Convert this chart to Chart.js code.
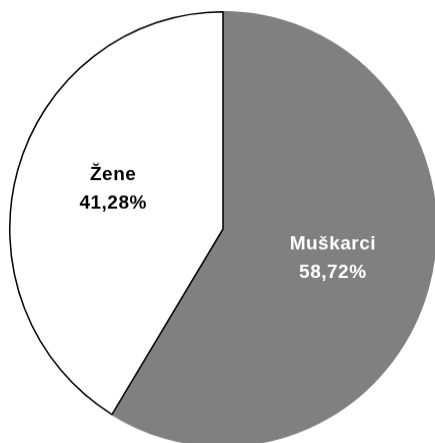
<!DOCTYPE html>
<html>
<head>
<meta charset="utf-8">
<script src="https://cdn.jsdelivr.net/npm/chart.js@4/dist/chart.umd.min.js"></script>
<style>
  html, body { margin: 0; padding: 0; background: #fff; overflow: hidden; width: 435px; height: 443px; }
  #wrap { position: absolute; left: 9px; top: 11px; width: 428px; height: 436px; }
  #c { width: 428px !important; height: 436px !important; display: block; }
</style>
</head>
<body>
<div id="wrap"><canvas id="c" width="428" height="428"></canvas></div>
<script>
const categories = ['Muškarci', 'Žene'];
const values = [58.72, 41.28];
const valueLabels = ['58,72%', '41,28%'];
const sliceColors = ['#808080', '#ffffff'];
const borderColors = ['#808080', '#000000'];
const labelColors = ['#ffffff', '#000000'];

const labelPlugin = {
  id: 'sliceLabels',
  afterDatasetsDraw(chart) {
    const ctx = chart.ctx;
    const meta = chart.getDatasetMeta(0);
    meta.data.forEach((arc, i) => {
      const p = arc.getProps(['x', 'y', 'startAngle', 'endAngle', 'outerRadius'], true);
      const mid = (p.startAngle + p.endAngle) / 2;
      const r = p.outerRadius * 0.535;
      const cx = p.x + Math.cos(mid) * r;
      const cy = p.y + Math.sin(mid) * r * 1.1;
      ctx.save();
      ctx.fillStyle = labelColors[i];
      ctx.font = 'bold 19px "Liberation Sans", Arial, sans-serif';
      if ('letterSpacing' in ctx) ctx.letterSpacing = '0.5px';
      ctx.textAlign = 'center';
      ctx.textBaseline = 'alphabetic';
      ctx.fillText(categories[i], cx, cy - 14);
      ctx.fillText(valueLabels[i], cx, cy + 14);
      ctx.restore();
    });
  }
};

new Chart(document.getElementById('c'), {
  type: 'pie',
  data: {
    labels: categories,
    datasets: [{
      data: values,
      backgroundColor: sliceColors,
      borderColor: borderColors,
      borderWidth: 1.5
    }]
  },
  options: {
    responsive: false,
    animation: false,
    layout: { padding: 0 },
    plugins: { legend: { display: false }, tooltip: { enabled: false } }
  },
  plugins: [labelPlugin]
});
</script>
</body>
</html>
